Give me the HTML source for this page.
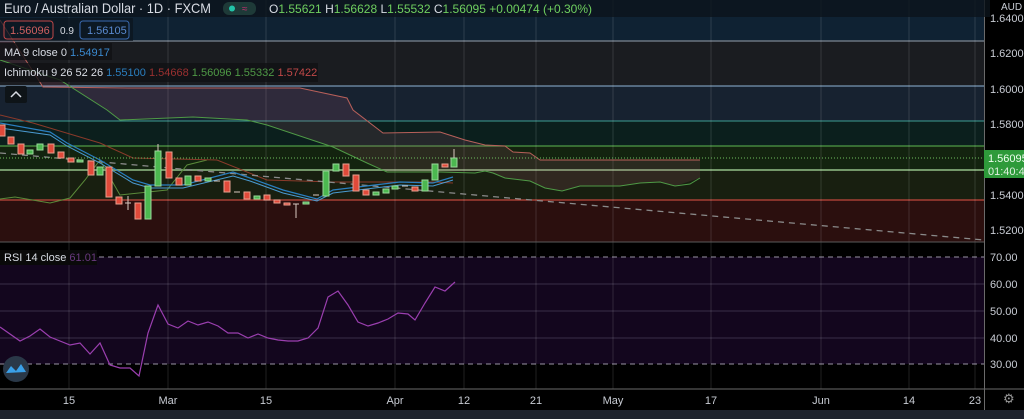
<!DOCTYPE html>
<html><head><meta charset="utf-8"><style>
body{margin:0;width:1024px;height:419px;background:#000;overflow:hidden;font-family:"Liberation Sans",sans-serif}
svg{display:block}
</style></head><body>
<svg width="1024" height="419" viewBox="0 0 1024 419" xmlns="http://www.w3.org/2000/svg" font-family="Liberation Sans, sans-serif">
<rect x="0" y="0" width="984" height="41" fill="#0f2233"/>
<rect x="0" y="41" width="984" height="45" fill="#1a1c20"/>
<rect x="0" y="86" width="984" height="35" fill="#172230"/>
<rect x="0" y="121" width="984" height="25" fill="#0b1f1d"/>
<rect x="0" y="146" width="984" height="24" fill="#13230f"/>
<rect x="0" y="170" width="984" height="30" fill="#181f10"/>
<rect x="0" y="200" width="984" height="42" fill="#2b0f0e"/>
<line x1="0" y1="41" x2="984" y2="41" stroke="#6b7580" stroke-width="1.5"/>
<line x1="0" y1="86" x2="984" y2="86" stroke="#8fb4d6" stroke-width="1"/>
<line x1="0" y1="121" x2="984" y2="121" stroke="#3c9c92" stroke-width="1"/>
<line x1="0" y1="146" x2="984" y2="146" stroke="#4f9a46" stroke-width="1.2"/>
<line x1="0" y1="170" x2="984" y2="170" stroke="#74986a" stroke-width="2"/>
<line x1="0" y1="200" x2="984" y2="200" stroke="#c0483c" stroke-width="1.2"/>
<rect x="0" y="257" width="984" height="107" fill="#13061e"/>
<g stroke="#3a2f48" stroke-width="1"><line x1="0" y1="284" x2="984" y2="284"/><line x1="0" y1="311" x2="984" y2="311"/><line x1="0" y1="338" x2="984" y2="338"/></g>
<g stroke="#9a94a4" stroke-width="1" stroke-dasharray="5,4"><line x1="0" y1="257" x2="984" y2="257"/><line x1="0" y1="364" x2="984" y2="364"/></g>
<g stroke="#ffffff" stroke-opacity="0.13" stroke-width="1">
<line x1="69" y1="0" x2="69" y2="389"/><line x1="168" y1="0" x2="168" y2="389"/><line x1="266" y1="0" x2="266" y2="389"/><line x1="395" y1="0" x2="395" y2="389"/><line x1="464" y1="0" x2="464" y2="389"/><line x1="536" y1="0" x2="536" y2="389"/><line x1="613" y1="0" x2="613" y2="389"/><line x1="711" y1="0" x2="711" y2="389"/><line x1="821" y1="0" x2="821" y2="389"/><line x1="909" y1="0" x2="909" y2="389"/><line x1="975" y1="0" x2="975" y2="389"/>
</g>
<polygon points="0,20 43,87 130,88 300,88 347,98 353,110 383,133 440,132 465,140 485,145 505,146 513,152 530,153 540,160 700,160 700,178 675,186 660,182 640,183 620,186 580,186 562,191 545,188 530,181 505,178 485,171 440,172 387,172 367,163 333,147 267,125 247,120 193,117 120,120 107,110 60,80 0,60" fill="#b05a78" fill-opacity="0.16"/>
<polyline points="0,20 43,87 130,88 300,88 347,98 353,110 383,133 440,132 465,140 485,145 505,146 513,152 530,153 540,160 700,160" fill="none" stroke="#b8605a" stroke-width="1"/>
<polyline points="0,60 60,80 107,110 120,120 193,117 247,120 267,125 333,147 367,163 387,172 440,172 475,173 485,171 493,173 505,178 530,181 545,188 562,191 580,186 620,186 640,183 660,182 675,186 690,184 700,178" fill="none" stroke="#4f9a46" stroke-width="1"/>
<polyline points="0,199 15,197 50,203 70,198 85,180 100,160 120,195 167,190 187,165 207,160" fill="none" stroke="#5a8a3a" stroke-width="1"/>
<polyline points="0,115 33,123 100,143 133,158 217,160 267,180 333,182 433,182 453,183" fill="none" stroke="#8a3a2a" stroke-width="1"/>
<line x1="0" y1="153" x2="984" y2="240" stroke="#8a8a8a" stroke-width="1.3" stroke-dasharray="6,5"/>
<polyline points="0,123 50,132 67,143 100,160 133,180 150,185 183,185 233,172 250,178 283,190 317,199 333,190 400,182 433,183 453,177" fill="none" stroke="#2a7fc0" stroke-width="1.2"/>
<polyline points="0,128 50,135 67,146 100,163 133,183 150,188 183,188 233,176 250,181 283,193 317,201 333,193 400,185 433,186 453,180" fill="none" stroke="#4a9ad0" stroke-width="1"/>
<line x1="0" y1="158" x2="984" y2="158" stroke="#6fbf5f" stroke-width="1" stroke-dasharray="1,2"/>
<g stroke-width="1">
<g fill="#e04a3a" stroke="#e8a090">
<rect x="-1" y="125" width="6" height="11"/><rect x="8" y="137" width="6" height="7"/><rect x="18" y="144" width="6" height="10"/><rect x="48" y="144" width="6" height="9"/><rect x="58" y="152" width="6" height="6"/><rect x="68" y="158" width="6" height="4"/><rect x="88" y="161" width="6" height="14"/><rect x="106" y="167" width="6" height="30"/><rect x="116" y="197" width="6" height="7"/><rect x="135" y="203" width="6" height="16"/><rect x="166" y="152" width="6" height="26"/><rect x="176" y="178" width="6" height="7"/><rect x="195" y="176" width="6" height="5"/><rect x="224" y="181" width="6" height="11"/><rect x="244" y="192" width="6" height="7"/><rect x="264" y="195" width="6" height="5"/><rect x="274" y="200" width="6" height="3"/><rect x="284" y="203" width="6" height="2"/><rect x="343" y="164" width="6" height="12"/><rect x="353" y="175" width="6" height="16"/><rect x="363" y="190" width="6" height="5"/><rect x="412" y="187" width="6" height="4"/><rect x="442" y="164" width="6" height="3"/>
</g>
<g fill="#4cb850" stroke="#9ad89a">
<rect x="27" y="150" width="6" height="4"/><rect x="37" y="144" width="6" height="6"/><rect x="77" y="160" width="6" height="2"/><rect x="97" y="167" width="6" height="8"/><rect x="145" y="186" width="6" height="33"/><rect x="155" y="151" width="6" height="35"/><rect x="185" y="176" width="6" height="9"/><rect x="205" y="178" width="6" height="3"/><rect x="254" y="196" width="6" height="3"/><rect x="303" y="202" width="6" height="2"/><rect x="323" y="171" width="6" height="25"/><rect x="333" y="164" width="6" height="7"/><rect x="373" y="192" width="6" height="3"/><rect x="383" y="189" width="6" height="4"/><rect x="392" y="186" width="6" height="3"/><rect x="422" y="180" width="6" height="11"/><rect x="432" y="164" width="6" height="16"/><rect x="451" y="158" width="6" height="9"/>
</g>
<g stroke="#d8c8c0"><line x1="125" y1="203" x2="131" y2="203"/><line x1="214" y1="181" x2="220" y2="181"/><line x1="234" y1="192" x2="240" y2="192"/><line x1="293" y1="204" x2="299" y2="204"/><line x1="296" y1="204" x2="296" y2="218"/><line x1="313" y1="195" x2="319" y2="195"/><line x1="402" y1="186" x2="408" y2="186"/><line x1="454" y1="149" x2="454" y2="158"/><line x1="158" y1="144" x2="158" y2="151"/><line x1="128" y1="196" x2="128" y2="210"/></g>
</g>
<polyline points="0,327 20,341 30,336 40,329 50,337 70,345 80,343 90,354 100,343 110,365 120,368 130,368 139,376 148,333 158,305 168,324 178,328 188,321 198,325 208,322 218,326 228,333 238,333 248,338 258,334 268,338 278,340 288,341 298,341 308,338 318,328 328,297 338,291 348,305 358,322 368,326 378,323 388,319 398,313 408,314 415,320 425,303 435,287 445,291 455,282" fill="none" stroke="#9b3fb0" stroke-width="1.2"/>
<line x1="0" y1="242" x2="984" y2="242" stroke="#5a5a5a" stroke-width="1"/>
<line x1="0" y1="389" x2="1024" y2="389" stroke="#6a6a6a" stroke-width="1"/>
<line x1="984.5" y1="0" x2="984.5" y2="410" stroke="#6a6a6a" stroke-width="1"/>
<rect x="0" y="410" width="1024" height="9" fill="#1e222d"/>
<rect x="0" y="0" width="990" height="17" fill="#0b141c" fill-opacity="0.8"/>
<text x="4" y="13" fill="#d8dce4" font-size="14" textLength="207" lengthAdjust="spacingAndGlyphs">Euro / Australian Dollar · 1D · FXCM</text>
<rect x="223" y="2" width="33" height="13" rx="6" fill="#1e3a38"/><circle cx="232" cy="8.5" r="3" fill="#22c4a8"/><text x="242" y="12" fill="#c03070" font-size="10">≈</text>
<text x="269" y="13" font-size="12" fill="#6fcf5f"><tspan fill="#d8dce4">O</tspan>1.55621 <tspan fill="#d8dce4">H</tspan>1.56628 <tspan fill="#d8dce4">L</tspan>1.55532 <tspan fill="#d8dce4">C</tspan>1.56095 +0.00474 (+0.30%)</text>
<rect x="0" y="18" width="133" height="23" fill="#0b141c" fill-opacity="0.7"/>
<rect x="4" y="21" width="49" height="18" rx="3" fill="none" stroke="#c04848"/><text x="10" y="34" fill="#d06060" font-size="11">1.56096</text>
<text x="60" y="34" fill="#d8dce4" font-size="10">0.9</text>
<rect x="80" y="21" width="49" height="18" rx="3" fill="none" stroke="#3a6ab0"/><text x="87" y="34" fill="#5a8ad0" font-size="11">1.56105</text>
<rect x="0" y="43" width="112" height="17" fill="#101214" fill-opacity="0.8"/>
<text x="4" y="56" fill="#d8dce4" font-size="11">MA 9 close 0 <tspan fill="#3a8ad0">1.54917</tspan></text>
<rect x="0" y="63" width="318" height="19" fill="#101214" fill-opacity="0.8"/>
<text x="4" y="76" fill="#d8dce4" font-size="11">Ichimoku 9 26 52 26 <tspan fill="#2a7fc0">1.55100</tspan> <tspan fill="#9a3030">1.54668</tspan> <tspan fill="#4f9a46">1.56096</tspan> <tspan fill="#4f9a46">1.55332</tspan> <tspan fill="#c04848">1.57422</tspan></text>
<rect x="5" y="86" width="22" height="17" rx="2" fill="#0e1418"/><path d="M11 97 L16 92 L21 97" fill="none" stroke="#d8dce4" stroke-width="1.5"/>
<rect x="0" y="250" width="97" height="15" fill="#0a0a0a"/>
<text x="4" y="261" fill="#d8dce4" font-size="11">RSI 14 close <tspan fill="#6a3a80">61.01</tspan></text>
<circle cx="16" cy="369" r="13" fill="#2a3848"/><path d="M6 373 L11 366 L16 371 L21 364 L26 372 Z" fill="#3aa0e8"/>
<g fill="#c8ccd4" font-size="11">
<text x="1001" y="10" font-size="10">AUD</text>
<text x="990" y="22">1.64000</text><text x="990" y="57">1.62000</text><text x="990" y="93">1.60000</text><text x="990" y="128">1.58000</text><text x="990" y="199">1.54000</text><text x="990" y="234">1.52000</text>
<text x="990" y="261">70.00</text><text x="990" y="288">60.00</text><text x="990" y="315">50.00</text><text x="990" y="342">40.00</text><text x="990" y="368">30.00</text>
</g>
<rect x="984" y="150" width="40" height="28" fill="#2e9a3a"/>
<text x="988" y="162" fill="#f0fff0" font-size="11">1.56095</text><text x="988" y="175" fill="#e0f0e0" font-size="11">01:40:4</text>
<text x="1003" y="403" fill="#999" font-size="13">⚙</text>
<g fill="#c8ccd4" font-size="11" text-anchor="middle">
<text x="69" y="404">15</text><text x="168" y="404">Mar</text><text x="266" y="404">15</text><text x="395" y="404">Apr</text><text x="464" y="404">12</text><text x="536" y="404">21</text><text x="613" y="404">May</text><text x="711" y="404">17</text><text x="821" y="404">Jun</text><text x="909" y="404">14</text><text x="975" y="404">23</text>
</g>
</svg>
</body></html>
